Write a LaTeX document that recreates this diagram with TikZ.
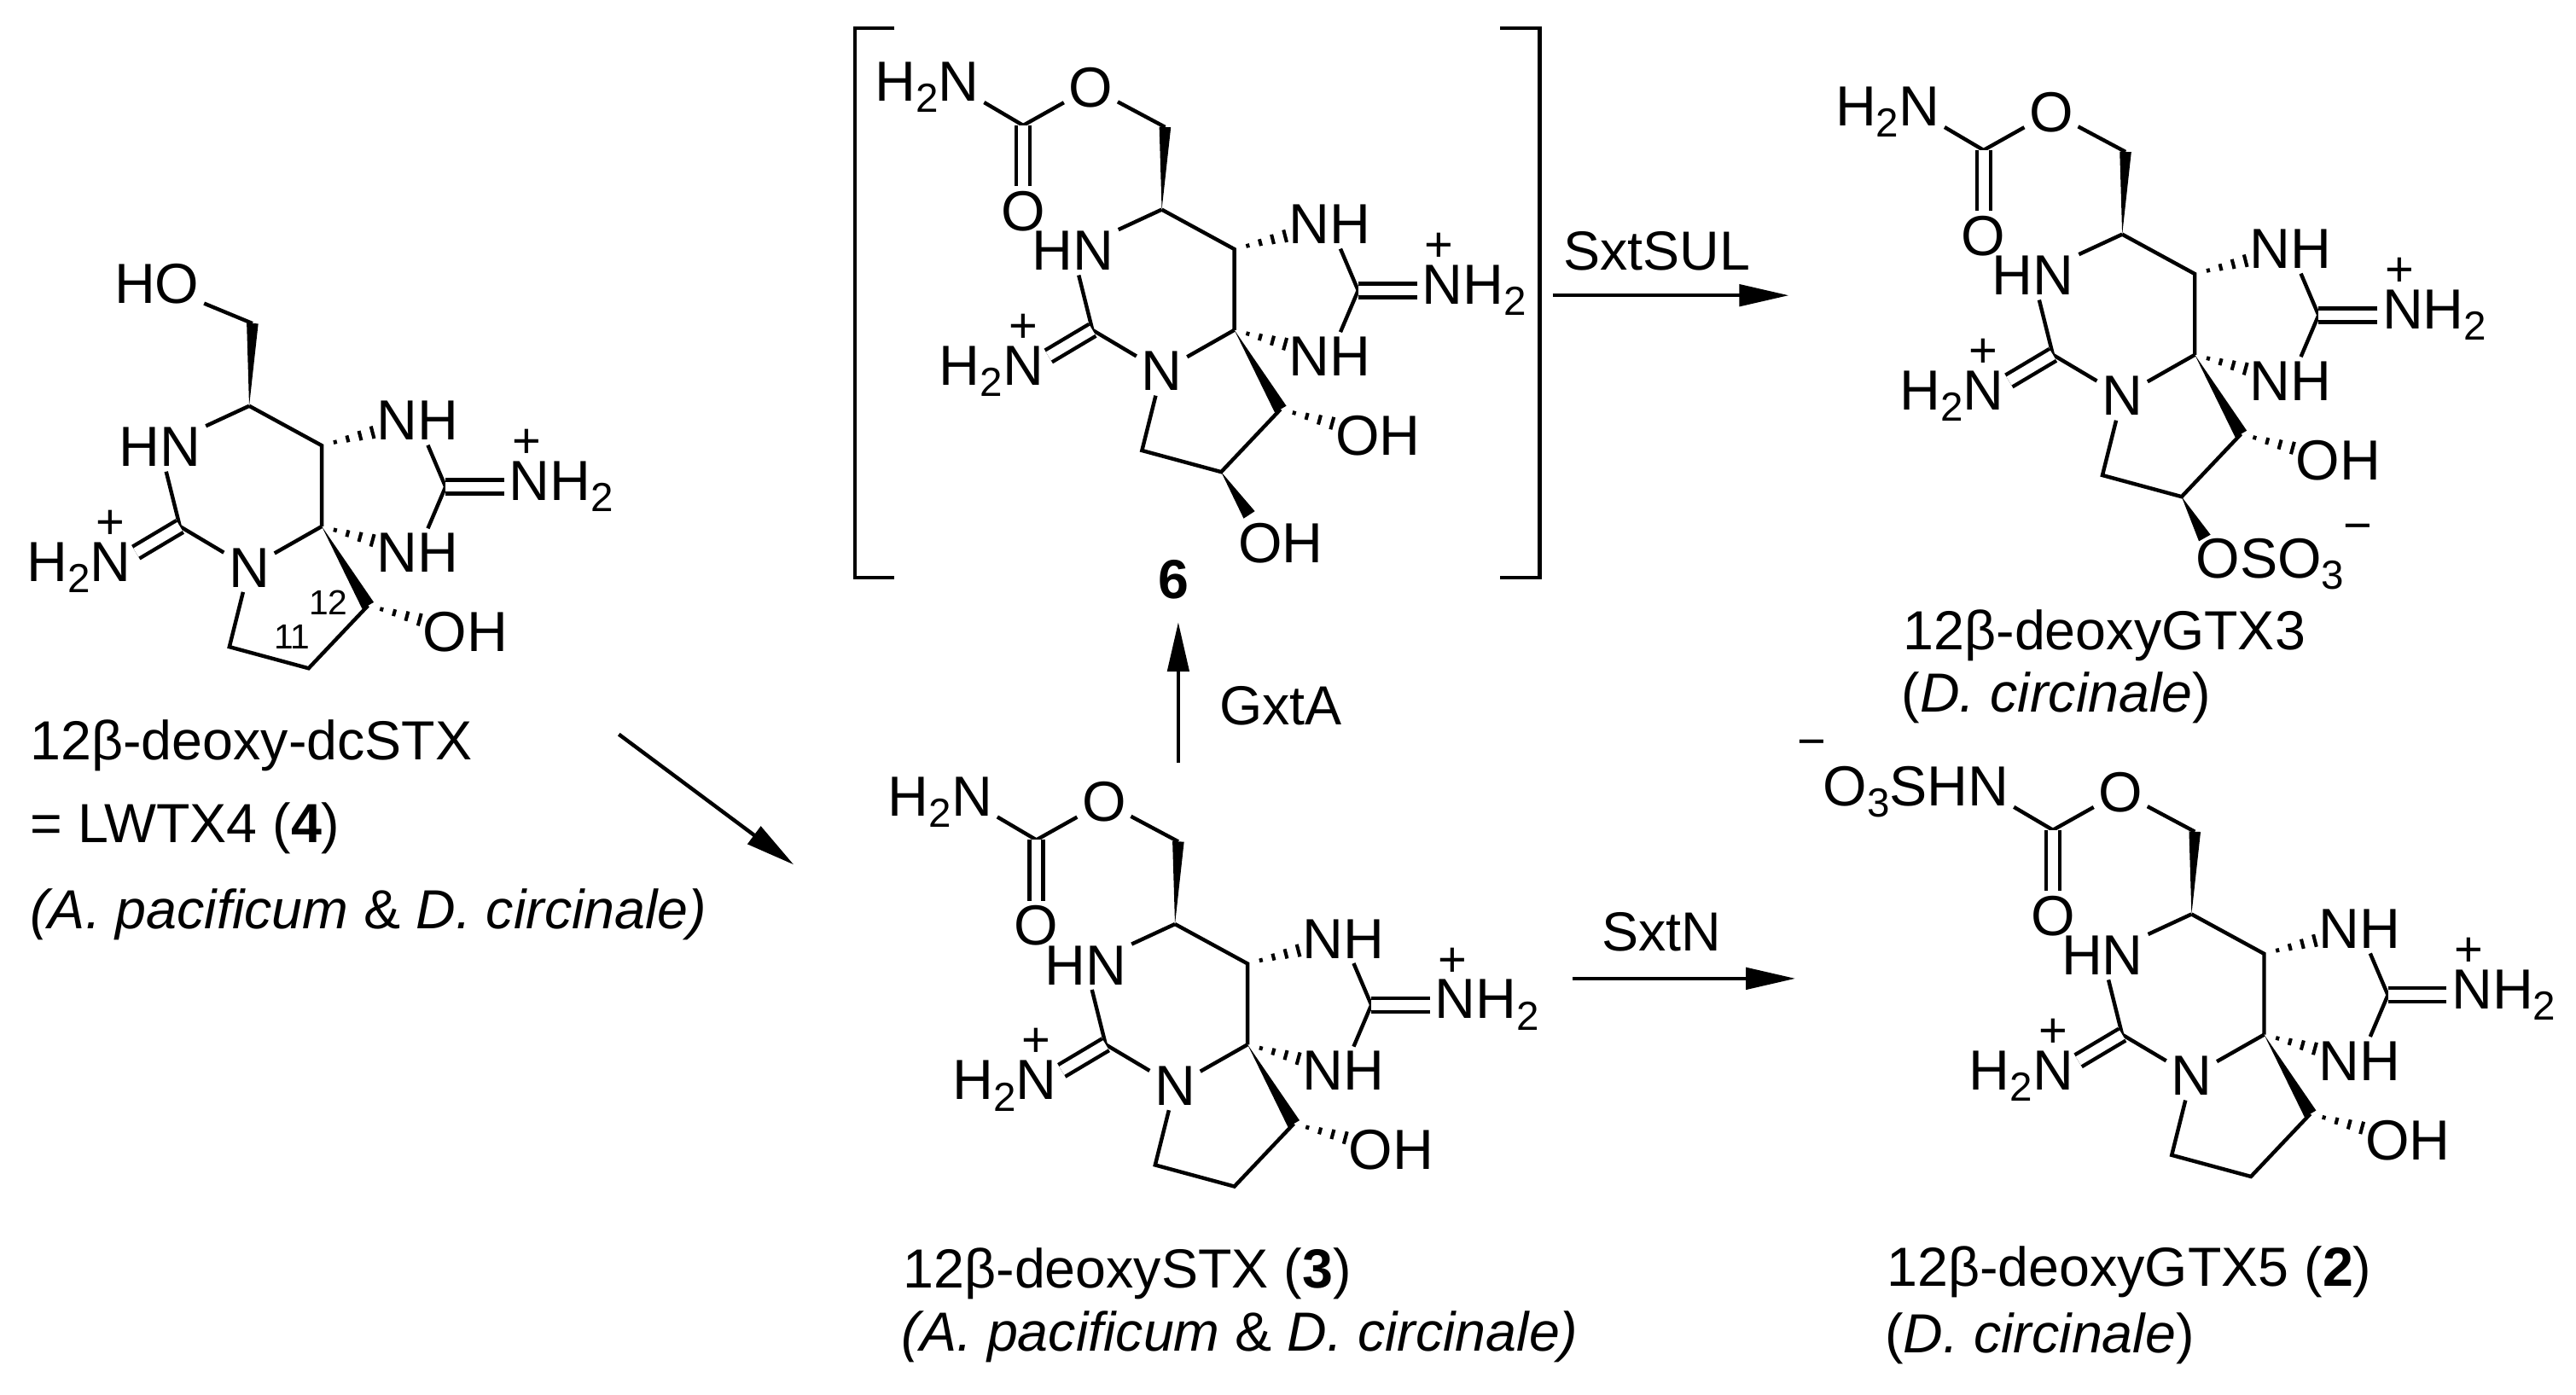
\documentclass[tikz,border=0pt]{standalone}
\usepackage{fontspec}
\setmainfont{Liberation Sans}
\usetikzlibrary{calc,arrows.meta}
\newcommand\ssub[1]{\raisebox{-0.38ex}{\fontsize{14}{14}\selectfont #1}}
\newcommand\hashb[2]{\foreach \t/\w in {0.14/0.7pt,0.27/1.2pt,0.40/1.7pt,0.53/2.2pt}{\draw[line width=1.2pt] ($(#1)!\t!(#2)!\w!90:(#2)$) -- ($(#1)!\t!(#2)!\w!-90:(#2)$);}}
\newcommand\wedgeb[3][2.3pt]{\fill (#2) -- ($(#3)!#1!90:(#2)$) -- ($(#3)!#1!-90:(#2)$) -- cycle;}
\newcommand\stxcore[2]{%
\begin{scope}[shift={#2}]
\coordinate (#1c4) at (0,0);
\coordinate (#1c5) at (0,-49);
\coordinate (#1c6) at (-44,-73);
\coordinate (#1c2) at (-86,0);
\coordinate (#1cg) at (75,-24);
\coordinate (#1c12) at (28,48);
\coordinate (#1c11) at (-8,86);
\coordinate (#1c10) at (-56,73);
\coordinate (#1ch2) at (-42,-123);
\node[atom] (#1hn) at (-98,-48) {HN};
\node[atom] (#1n1) at (-44,25) {N};
\node[atom] (#1nim) at (-128,25) {\llap{H\ssub2}N};
\node[chg] (#1p1) at (-128,-1) {+};
\node[atom] (#1nht) at (58,-64) {NH};
\node[atom] (#1nhb) at (58,16) {NH};
\node[atom] (#1nh2) at (126,-24) {N\rlap{H\ssub2}};
\node[chg] (#1p2) at (124,-50) {+};
\node[atom] (#1oh) at (87,64) {OH};
\end{scope}
\draw[bond] (#1c6) -- (#1hn);
\draw[bond] (#1c6) -- (#1c5) -- (#1c4);
\draw[bond] (#1hn) -- (#1c2) -- (#1n1) -- (#1c4);
\draw[dbl] (#1c2) -- (#1nim);
\hashb{#1c5}{#1nht}
\hashb{#1c4}{#1nhb}
\draw[bond] (#1nht) -- (#1cg) -- (#1nhb);
\draw[dbl] (#1cg) -- (#1nh2);
\wedgeb{#1c4}{#1c12}
\hashb{#1c12}{#1oh}
\draw[bond] (#1c12) -- (#1c11) -- (#1c10) -- (#1n1);
\wedgeb[2pt]{#1c6}{#1ch2}
}
\newcommand\carb[3]{%
\begin{scope}[shift={#2}]
\node[atom] (#1oe) at (-87,-147) {O};
\coordinate (#1cc) at (-128,-124);
\node[atom] (#1oc) at (-128,-72) {O};
\node[atom] (#1nc) at (-167,-147) {#3};
\end{scope}
\draw[bond] (#1ch2) -- (#1oe) -- (#1cc) -- (#1nc);
\draw[dbl] (#1cc) -- (#1oc);
}
\begin{document}
\begin{tikzpicture}[x=0.02cm,y=-0.02cm,
 bond/.style={line width=1.3pt},
 atom/.style={font=\fontsize{19.5}{21}\selectfont, inner sep=1.5pt},
 chg/.style={font=\fontsize{17}{17}\selectfont, inner sep=0pt},
 lbl/.style={font=\fontsize{19}{22}\selectfont, inner sep=0pt, anchor=west},
 dbl/.style={double, double distance=3.4pt, line width=1.3pt},
 arr/.style={line width=1.3pt, -{Triangle[length=0.6cm,width=0.26cm]}}]
\useasboundingbox (0,0) rectangle (1561,845);

% ---- compound 4 ----
\stxcore{a}{(195,319)}
\node[atom] (aho) at (95,172) {HO};
\draw[bond] (aho) -- (ach2);
\node[font=\fontsize{12}{12}\selectfont, inner sep=0pt] (a12) at (199,365) {12};
\node[font=\fontsize{12}{12}\selectfont, inner sep=0pt] (a11) at (177,386) {11};
\node[lbl] (la1) at (18,452) {12β-deoxy-dcSTX};
\node[lbl] (la2) at (18,502) {= LWTX4 (\textbf{4})};
\node[lbl] (la3) at (18,554) {\textit{(A. pacificum} \& \textit{D. circinale)}};

% ---- compound 3 ----
\stxcore{b}{(756,633)}
\carb{b}{(756,633)}{\llap{H\ssub2}N}
\node[lbl] (lb1) at (547,772) {12β-deoxySTX (\textbf{3})};
\node[lbl] (lb2) at (546,810) {\textit{(A. pacificum} \& \textit{D. circinale)}};

% ---- compound 6 ----
\stxcore{c}{(748,200)}
\carb{c}{(748,200)}{\llap{H\ssub2}N}
\node[atom] (coh11) at (776,329) {OH};
\coordinate (cw) at (757,312);
\wedgeb{cc11}{cw}
\node[font=\fontsize{19}{22}\selectfont\bfseries, inner sep=0pt] (l6) at (711,351) {6};
\draw[bond] (542,17) -- (518,17) -- (518,350) -- (542,350);
\draw[bond] (909,17) -- (933,17) -- (933,350) -- (909,350);

% ---- GTX3 ----
\stxcore{d}{(1330,215)}
\carb{d}{(1330,215)}{\llap{H\ssub2}N}
\node[atom] (doso) at (1344,342) {O\rlap{SO\ssub3}};
\node[chg] (dm) at (1429,323) {−};
\coordinate (dw) at (1336,326);
\wedgeb{dc11}{dw}
\node[lbl] (ld1) at (1153,385) {12β-deoxyGTX3};
\node[lbl] (ld2) at (1152,423) {(\textit{D. circinale})};

% ---- GTX5 ----
\stxcore{e}{(1372,627)}
\carb{e}{(1372,627)}{\llap{O\ssub3SH}N}
\node[chg] (em) at (1098,454) {−};
\node[lbl] (le1) at (1143,771) {12β-deoxyGTX5 (\textbf{2})};
\node[lbl] (le2) at (1142,811) {(\textit{D. circinale})};

% ---- arrows ----
\coordinate (r1s) at (375,445); \coordinate (r1e) at (481,524);
\draw[arr] (r1s) -- (r1e);
\coordinate (r2s) at (714,462); \coordinate (r2e) at (714,377);
\draw[arr] (r2s) -- (r2e);
\node[lbl, anchor=center] (tg) at (776,428) {GxtA};
\coordinate (r3s) at (941,179); \coordinate (r3e) at (1084,179);
\draw[arr] (r3s) -- (r3e);
\node[lbl, anchor=center] (ts) at (1004,152) {SxtSUL};
\coordinate (r4s) at (953,593); \coordinate (r4e) at (1088,593);
\draw[arr] (r4s) -- (r4e);
\node[lbl, anchor=center] (tn) at (1007,565) {SxtN};
\end{tikzpicture}
\end{document}
